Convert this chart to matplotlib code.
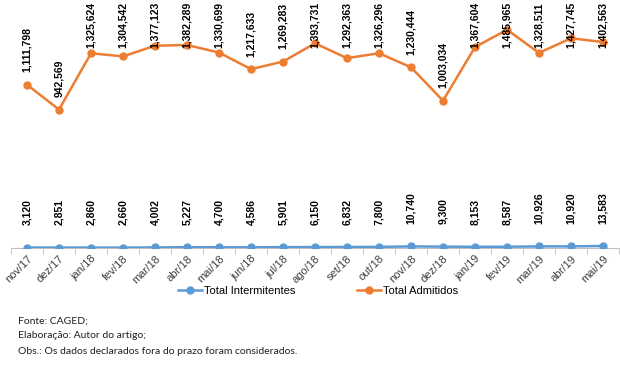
import matplotlib.pyplot as plt

plt.rcParams["font.family"] = ["Liberation Sans", "DejaVu Sans"]

# months and series
meses = ["nov/17", "dez/17", "jan/18", "fev/18", "mar/18", "abr/18", "mai/18",
         "jun/18", "jul/18", "ago/18", "set/18", "out/18", "nov/18", "dez/18",
         "jan/19", "fev/19", "mar/19", "abr/19", "mai/19"]
intermitentes = [3120, 2851, 2860, 2660, 4002, 5227, 4700, 4586, 5901, 6150,
                 6832, 7800, 10740, 9300, 8153, 8587, 10926, 10920, 13583]
admitidos = [1111798, 942569, 1325624, 1304542, 1377123, 1382289, 1330699,
             1217633, 1269283, 1393731, 1292363, 1326296, 1230444, 1003034,
             1367604, 1485965, 1328511, 1427745, 1402563]

azul = "#5B9BD5"
laranja = "#ED7D31"

fig = plt.figure(figsize=(6.2, 3.69), dpi=100)
ax = fig.add_axes([11 / 620, 121 / 369, 608 / 620, 235 / 369])

x = list(range(len(meses)))
ax.plot(x, intermitentes, color=azul, lw=1.8, marker="o", ms=5,
        label="Total Intermitentes", zorder=3)
ax.plot(x, admitidos, color=laranja, lw=1.8, marker="o", ms=5,
        label="Total Admitidos", zorder=3)

ax.set_xlim(-0.5, len(meses) - 0.5)
ax.set_ylim(0, 1600000)
ax.set_yticks([])
for s in ["top", "right", "left"]:
    ax.spines[s].set_visible(False)
ax.spines["bottom"].set_color("#BFBFBF")

ax.set_xticks(x)
ax.set_xticklabels(meses, rotation=45, ha="right", rotation_mode="anchor",
                   fontsize=8, color="#404040")
ax.tick_params(axis="x", length=0, pad=4)
ax.set_xticks([i + 0.5 for i in range(-1, len(meses))], minor=True)
ax.tick_params(axis="x", which="minor", length=4, color="#BFBFBF")

# data labels, rotated like the Excel original
rotulos = []
for i, v in enumerate(admitidos):
    t = ax.annotate(f"{v:,}", (i, v), xytext=(0, 9), textcoords="offset points",
                    rotation=90, ha="center", va="bottom", fontsize=7.5,
                    fontweight="bold", annotation_clip=False)
    rotulos.append(t)
for i, v in enumerate(intermitentes):
    ax.annotate(f"{v:,}", (i, v), xytext=(0, 16), textcoords="offset points",
                rotation=90, ha="center", va="bottom", fontsize=7.5,
                fontweight="bold", annotation_clip=False)

# labels that would leave the figure are pushed down, as Excel does
fig.canvas.draw()
r = fig.canvas.get_renderer()
H = fig.bbox.height
for t in rotulos:
    bb = t.get_window_extent(r)
    excesso = bb.y1 - (H - 2)
    if excesso > 0:
        dx, dy = t.xyann
        t.xyann = (dx, dy - excesso * 72 / fig.dpi)

fig.legend(loc="center", bbox_to_anchor=(0.513, 1 - 291 / 369), ncol=2,
           frameon=False, fontsize=8, columnspacing=5.5, handlelength=2.2,
           handletextpad=0.2)

notas = ["Fonte: CAGED;", "Elaboração: Autor do artigo;",
         "Obs.: Os dados declarados fora do prazo foram considerados."]
for k, t in enumerate(notas):
    fig.text(18 / 620, 1 - (321 + 15 * k) / 369, t, fontsize=7.5, va="center",
             family=["Lato", "DejaVu Sans"], color="#202020")

fig.savefig("out.png", dpi=100)
